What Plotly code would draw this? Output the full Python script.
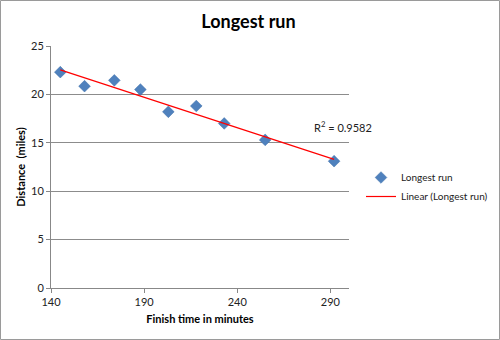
import numpy as np
import plotly.graph_objects as go

# Finish time (minutes) and distance (miles) of the longest runs
finish_minutes = [145, 158, 174, 188, 203, 218, 233, 255, 292]
distance_miles = [22.3, 20.85, 21.45, 20.5, 18.2, 18.8, 17.0, 15.3, 13.1]
x_ticks = [140, 190, 240, 290]
y_ticks = [0, 5, 10, 15, 20, 25]
r2_label = "R<sup>2</sup> = 0.9582"

x = np.array(finish_minutes, dtype=float)
y = np.array(distance_miles, dtype=float)
slope, intercept = np.polyfit(x, y, 1)
trend_x = np.array([x.min(), x.max()])
trend_y = slope * trend_x + intercept

FONT = "Lato, 'Liberation Sans', sans-serif"

fig = go.Figure()
fig.add_trace(go.Scatter(
    x=finish_minutes, y=distance_miles, mode="markers", name="Longest run",
    marker=dict(symbol="diamond", size=9, color="#4F81BD",
                line=dict(width=0.5, color="#3C6EA8")),
))
fig.add_trace(go.Scatter(
    x=trend_x, y=trend_y, mode="lines", name="Linear (Longest run)",
    line=dict(color="#FF0000", width=1.2),
))

fig.add_annotation(x=297, y=16.7, xref="x", yref="y", text=r2_label,
                   showarrow=False, font=dict(size=11, color="#222", family=FONT))

L, R, T, B = 51, 151, 46, 52
W, H = 500, 340
pw, ph = W - L - R, H - T - B
fig.add_shape(type="rect", xref="paper", yref="paper",
              x0=(-L + 0.5) / pw, x1=(W - L - 0.5) / pw,
              y0=(-B + 0.5) / ph, y1=(H - B - 0.5) / ph,
              line=dict(color="#9a9a9a", width=1), fillcolor="rgba(0,0,0,0)")

fig.update_layout(
    width=W, height=H,
    margin=dict(l=L, r=R, t=T, b=B, autoexpand=False),
    paper_bgcolor="white", plot_bgcolor="white",
    title=dict(text="<b>Longest run</b>", x=0.497, xanchor="center",
               y=0.935, yanchor="middle",
               font=dict(size=18, color="#000", family=FONT)),
    font=dict(family=FONT, size=11, color="#222"),
    legend=dict(xref="container", yref="container", x=0.722, y=0.45,
                xanchor="left", yanchor="middle",
                font=dict(size=10, family=FONT), bgcolor="rgba(0,0,0,0)",
                itemwidth=30),
    showlegend=True,
)
fig.update_xaxes(
    range=[140, 300], tickvals=x_ticks, showgrid=False,
    showline=True, linecolor="#888", linewidth=1,
    ticks="outside", ticklen=4, tickcolor="#888",
    title=dict(text="<b>Finish time in minutes</b>", standoff=8,
               font=dict(size=11, family=FONT, color="#000")),
    tickfont=dict(size=11, color="#222"), zeroline=False,
)
fig.update_yaxes(
    range=[0, 25], tickvals=y_ticks, showgrid=True, gridcolor="#8c8c8c",
    gridwidth=1, showline=True, linecolor="#888", linewidth=1,
    ticks="outside", ticklen=4, tickcolor="#888",
    title=dict(text="<b>Distance  (miles)</b>", standoff=3,
               font=dict(size=11, family=FONT, color="#000")),
    tickfont=dict(size=11, color="#222"), zeroline=False,
)

fig.write_html("out.html")
